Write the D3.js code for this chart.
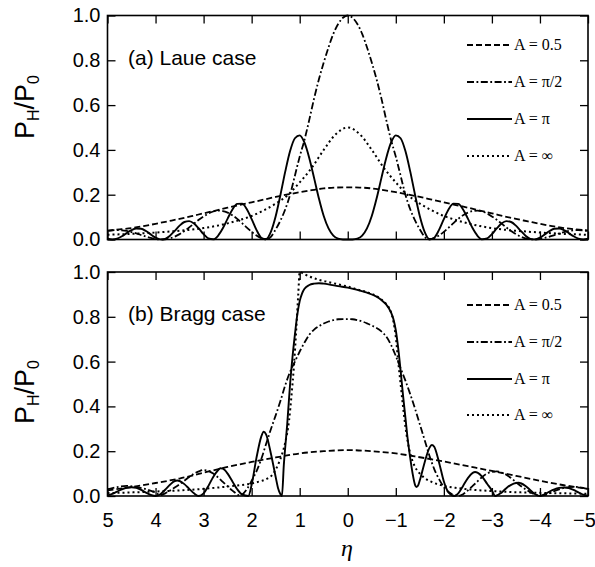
<!DOCTYPE html>
<html><head><meta charset="utf-8">
<script src="https://cdn.jsdelivr.net/npm/d3@7"></script>
<style>body{margin:0;background:#fff}</style>
</head><body><svg id="c" width="595" height="567" xmlns="http://www.w3.org/2000/svg"></svg>
<script>
// ---------- data ----------
const etaTicks = [5,4,3,2,1,0,-1,-2,-3,-4,-5];
const yTicks = [0,0.2,0.4,0.6,0.8,1.0];
const seriesNames = ["A = 0.5","A = \u03c0/2","A = \u03c0","A = \u221e"];
const panelTitles = ["(a) Laue case","(b) Bragg case"];

const etaFine = d3.range(-50,51).map(i=>i/10);    // -5 .. 5 step 0.1
const etaCoarse = d3.range(-20,21).map(i=>i/4);   // -5 .. 5 step 0.25

// Laue case
const laueA05 = [.040,.045,.051,.060,.070,.081,.092,.104,.117,.129,.142,.154,.166,.178,.190,.201,.211,.220,.228,.232,.233,.232,.228,.220,.211,.201,.190,.178,.166,.154,.142,.129,.117,.104,.092,.081,.070,.060,.051,.045,.040];
const laueAinf = [.021,.023,.025,.028,.031,.035,.039,.044,.051,.060,.072,.087,.105,.130,.160,.198,.255,.320,.400,.470,.500,.470,.400,.320,.255,.198,.160,.130,.105,.087,.072,.060,.051,.044,.039,.035,.031,.028,.025,.023,.021];
const laueApi = [.0036,0,.0038,.0143,.0286,.0417,.049,.0477,.0378,.0228,.0084,.0004,.0031,.0171,.0389,.0618,.0781,.0819,.0712,.0493,.0238,.0047,.0008,.0167,.050,.0933,.134,.159,.160,.135,.0912,.0431,.008,.0019,.0344,.104,.200,.304,.395,.452,.465,.432,.363,.274,.183,.105,.0495,.0174,.0037,.0002,0,
 .0002,.0037,.0174,.0495,.105,.183,.274,.363,.432,.465,.452,.395,.304,.200,.104,.0344,.0019,.008,.0431,.0912,.135,.160,.159,.134,.0933,.050,.0167,.0008,.0047,.0238,.0493,.0712,.0819,.0781,.0618,.0389,.0171,.0031,.0004,.0084,.0228,.0378,.0477,.049,.0417,.0286,.0143,.0038,0,.0036];
const laueApi2 = [.038,.041,.042,.041,.038,.033,.027,.020,.013,.007,.002,.000,.001,.005,.013,.024,.038,.054,.071,.088,.103,.116,.125,.129,.127,.120,.108,.092,.073,.053,.034,.018,.006,.000,.012,.045,.085,.135,.200,.285,.370,.445,.535,.630,.715,.790,.858,.918,.962,.990,
 1.000,.990,.962,.918,.858,.790,.715,.630,.535,.445,.370,.285,.200,.135,.085,.045,.012,.000,.006,.018,.034,.053,.073,.092,.108,.120,.127,.129,.125,.116,.103,.088,.071,.054,.038,.024,.013,.005,.001,.000,.002,.007,.013,.020,.027,.033,.038,.041,.042,.041,.038];

// Bragg case  [eta, P_H/P_0]
const braggA05 = [[5,.025],[4.5,.04],[4,.058],[3.5,.078],[3,.104],[2.5,.13],[2,.152],[1.5,.172],[1,.19],[.5,.2],[0,.205],[-.5,.2],[-1,.19],[-1.5,.173],[-2,.154],[-2.5,.133],[-3,.112],[-3.5,.09],[-4,.068],[-4.5,.048],[-5,.032]];
const braggApi2 = [[5.0,.03],[4.8,.04],[4.6,.045],[4.4,.04],[4.2,.03],[4.0,.015],[3.9,.004],[3.8,.012],[3.7,.024],[3.6,.038],[3.5,.052],[3.4,.068],[3.3,.085],[3.2,.1],[3.1,.11],[3.0,.116],[2.9,.112],[2.8,.1],[2.7,.083],[2.6,.063],[2.5,.043],[2.4,.024],[2.3,.008],[2.25,.002],[2.2,.006],[2.1,.03],[2.0,.068],[1.9,.11],[1.8,.165],[1.7,.232],[1.6,.298],[1.5,.36],[1.4,.425],[1.3,.495],[1.2,.555],[1.1,.6],[1.0,.645],[0.9,.685],[0.8,.72],[0.7,.743],[0.6,.758],[0.5,.77],[0.4,.779],[0.3,.785],[0.2,.789],[0.1,.79],[0,.79],[-0.1,.789],[-0.2,.785],[-0.3,.779],[-0.4,.771],[-0.5,.761],[-0.6,.75],[-0.7,.735],[-0.8,.712],[-0.9,.675],[-1.0,.625],[-1.1,.57],[-1.2,.515],[-1.3,.455],[-1.4,.39],[-1.5,.32],[-1.6,.25],[-1.7,.18],[-1.8,.12],[-1.9,.075],[-2.0,.04],[-2.1,.018],[-2.2,.005],[-2.3,.0],[-2.4,.008],[-2.5,.025],[-2.6,.045],[-2.7,.065],[-2.8,.085],[-2.9,.1],[-3.0,.108],[-3.1,.11],[-3.2,.105],[-3.3,.095],[-3.4,.08],[-3.5,.062],[-3.6,.045],[-3.7,.03],[-3.8,.017],[-3.9,.007],[-4.0,.002],[-4.1,.004],[-4.2,.012],[-4.3,.022],[-4.4,.03],[-4.5,.036],[-4.6,.04],[-4.7,.041],[-4.8,.04],[-4.9,.036],[-5.0,.03]];
const braggApi = [[5.0,.003],[4.9,.01],[4.8,.02],[4.7,.03],[4.6,.037],[4.5,.039],[4.4,.036],[4.3,.027],[4.2,.015],[4.1,.005],[4.0,.0],[3.9,.008],[3.8,.028],[3.7,.05],[3.6,.067],[3.55,.069],[3.5,.067],[3.4,.053],[3.3,.032],[3.2,.012],[3.1,.0],[3.0,.012],[2.9,.045],[2.8,.085],[2.7,.115],[2.65,.124],[2.6,.122],[2.5,.1],[2.4,.065],[2.3,.03],[2.2,.007],[2.07,.0],[2.0,.05],[1.9,.17],[1.8,.265],[1.75,.287],[1.7,.275],[1.6,.19],[1.5,.085],[1.45,.035],[1.4,.008],[1.37,.0],[1.33,.14],[1.3,.22],[1.26,.32],[1.2,.5],[1.15,.62],[1.1,.72],[1.05,.81],[1.0,.87],[0.95,.905],[0.9,.925],[0.8,.942],[0.7,.948],[0.6,.95],[0.5,.948],[0.4,.945],[0.2,.937],[0.0,.93],[-0.2,.92],[-0.4,.908],[-0.6,.89],[-0.7,.875],[-0.8,.855],[-0.9,.82],[-0.95,.79],[-1.0,.74],[-1.05,.66],[-1.1,.56],[-1.15,.45],[-1.2,.35],[-1.25,.25],[-1.3,.17],[-1.35,.1],[-1.4,.05],[-1.43,.04],[-1.47,.05],[-1.5,.07],[-1.6,.15],[-1.7,.215],[-1.75,.228],[-1.8,.22],[-1.9,.15],[-2.0,.065],[-2.1,.015],[-2.22,.0],[-2.3,.012],[-2.4,.045],[-2.5,.08],[-2.6,.103],[-2.65,.107],[-2.7,.104],[-2.8,.085],[-2.9,.055],[-3.0,.025],[-3.07,.0],[-3.2,.015],[-3.3,.035],[-3.4,.05],[-3.5,.058],[-3.56,.059],[-3.6,.057],[-3.7,.045],[-3.8,.026],[-3.9,.008],[-4.0,.0],[-4.1,.008],[-4.2,.02],[-4.3,.03],[-4.4,.036],[-4.5,.038],[-4.6,.035],[-4.7,.027],[-4.8,.016],[-4.9,.006],[-5.0,.001]];
const braggAinf = [[5.0,.013],[4.5,.016],[4.0,.02],[3.5,.025],[3.0,.032],[2.6,.04],[2.3,.047],[2.0,.056],[1.85,.064],[1.7,.075],[1.55,.1],[1.45,.14],[1.37,.185],[1.3,.24],[1.22,.34],[1.17,.45],[1.12,.58],[1.07,.75],[1.03,.9],[1.0,1.0],[0.9,.99],[0.8,.98],[0.6,.965],[0.4,.955],[0.2,.945],[0,.935],[-0.2,.922],[-0.4,.91],[-0.6,.892],[-0.7,.877],[-0.8,.857],[-0.9,.82],[-0.95,.78],[-1.0,.71],[-1.05,.6],[-1.1,.5],[-1.15,.4],[-1.2,.31],[-1.25,.24],[-1.3,.19],[-1.35,.155],[-1.4,.13],[-1.5,.1],[-1.6,.08],[-1.8,.058],[-2.0,.045],[-2.3,.035],[-2.6,.028],[-3.0,.022],[-3.5,.017],[-4.0,.014],[-4.5,.012],[-5.0,.01]];

// ---------- drawing ----------
const svg = d3.select("#c");
const X0 = 107.5, X1 = 588;
const x = d3.scaleLinear().domain([5,-5]).range([X0,X1]);
const dashes = ["6,3","7,2.5,1.8,2.5",null,"2,3"];
const widths = [1.8,1.8,1.9,2];
const sansFont = "'Liberation Sans', Arial, sans-serif";

const panels = [
  {top:15.5, bottom:239.5, title:panelTitles[0], xlabels:false, titleY:107,
   series:[ etaCoarse.map((e,i)=>[e,laueA05[i]]), etaFine.map((e,i)=>[e,laueApi2[i]]),
            etaFine.map((e,i)=>[e,laueApi[i]]), etaCoarse.map((e,i)=>[e,laueAinf[i]]) ],
   legendY:[45,82,119,156]},
  {top:272, bottom:496, title:panelTitles[1], xlabels:true, titleY:392,
   series:[ braggA05, braggApi2, braggApi, braggAinf ],
   legendY:[305,342,379,415]}
];

panels.forEach(p=>{
  const y = d3.scaleLinear().domain([0,1]).range([p.bottom,p.top]);
  const g = svg.append("g");

  // curves
  const line = d3.line().x(d=>x(d[0])).y(d=>y(d[1])).curve(d3.curveMonotoneX);
  p.series.forEach((s,k)=>{
    const pts = s.slice().sort((a,b)=>b[0]-a[0]);
    g.append("path").attr("d",line(pts)).attr("fill","none").attr("stroke","#000")
      .attr("stroke-width", widths[k]).attr("stroke-dasharray",dashes[k]);
  });

  // axes: inward ticks on all sides
  const bottomAxis = d3.axisBottom(x).tickValues(etaTicks).tickSize(-8).tickSizeOuter(0).tickPadding(17)
      .tickFormat(p.xlabels ? d3.format("d") : ()=>"");
  const ab = g.append("g").attr("transform",`translate(0,${p.bottom})`).call(bottomAxis);
  g.append("g").attr("transform",`translate(0,${p.top})`)
    .call(d3.axisTop(x).tickValues(etaTicks).tickSize(-8).tickSizeOuter(0).tickFormat(()=>""));
  const al = g.append("g").attr("transform",`translate(${X0},0)`)
    .call(d3.axisLeft(y).tickValues(yTicks).tickSize(-8).tickSizeOuter(0).tickPadding(7).tickFormat(d3.format(".1f")));
  g.append("g").attr("transform",`translate(${X1},0)`)
    .call(d3.axisRight(y).tickValues(yTicks).tickSize(-8).tickSizeOuter(0).tickFormat(()=>""));
  g.selectAll(".domain").remove();
  g.selectAll(".tick line").attr("stroke","#000").attr("stroke-width",1.3);
  al.selectAll("text").attr("font-family",sansFont).attr("font-size",20).attr("fill","#000");
  ab.selectAll("text").attr("font-family",sansFont).attr("font-size",20).attr("fill","#000")
    .attr("dx", d => d === -5 ? -4 : 0);

  // frame
  g.append("rect").attr("x",X0).attr("y",p.top).attr("width",X1-X0).attr("height",p.bottom-p.top)
    .attr("fill","none").attr("stroke","#000").attr("stroke-width",1.6);

  // panel label
  g.append("text").attr("x",128).attr("y",p.top+49).attr("font-family",sansFont)
    .attr("font-size",21).text(p.title);

  // legend
  p.legendY.forEach((ly,k)=>{
    g.append("line").attr("x1",467).attr("x2",512).attr("y1",ly).attr("y2",ly)
      .attr("stroke","#000").attr("stroke-width",widths[k]).attr("stroke-dasharray",dashes[k]);
    g.append("text").attr("x",514).attr("y",ly+5).attr("font-family","'Liberation Serif','Times New Roman',serif")
      .attr("font-size",16).text(seriesNames[k]);
  });

  // y title
  const t = g.append("text").attr("transform",`translate(34,${p.titleY}) rotate(-90)`)
    .attr("text-anchor","middle").attr("font-family",sansFont).attr("font-size",27);
  t.append("tspan").text("P");
  t.append("tspan").attr("font-size",16).attr("dy",5).text("H");
  t.append("tspan").attr("dy",-5).text("/P");
  t.append("tspan").attr("font-size",16).attr("dy",5).text("0");
});

// x title
svg.append("text").attr("x",347).attr("y",556).attr("text-anchor","middle")
  .attr("font-family","'Liberation Serif','Times New Roman',serif").attr("font-style","italic")
  .attr("font-size",24).text("\u03b7");
</script>
</body></html>
